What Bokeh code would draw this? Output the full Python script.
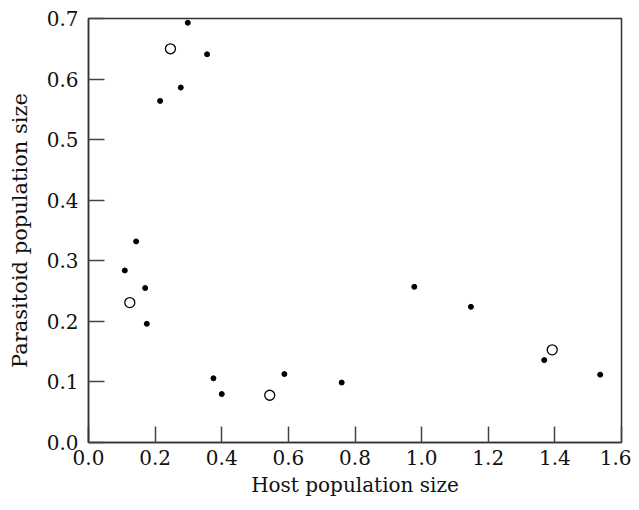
from bokeh.plotting import figure
from bokeh.models import FixedTicker, PrintfTickFormatter, Range1d
from bokeh.embed import file_html
from bokeh.resources import INLINE

# Filled points (host, parasitoid)
host_filled = [0.298, 0.356, 0.277, 0.215, 0.143, 0.109, 0.170, 0.175,
               0.375, 0.400, 0.588, 0.760, 0.978, 1.148, 1.368, 1.536]
para_filled = [0.693, 0.641, 0.586, 0.564, 0.332, 0.284, 0.255, 0.196,
               0.106, 0.080, 0.113, 0.099, 0.257, 0.224, 0.136, 0.112]

# Open points
host_open = [0.246, 0.124, 0.544, 1.392]
para_open = [0.650, 0.231, 0.078, 0.153]

x_ticks = [0.0, 0.2, 0.4, 0.6, 0.8, 1.0, 1.2, 1.4, 1.6]
y_ticks = [0.0, 0.1, 0.2, 0.3, 0.4, 0.5, 0.6, 0.7]

FONT = "DejaVu Serif"

p = figure(width=631, height=502, output_backend="svg", toolbar_location=None,
           x_range=Range1d(0, 1.6), y_range=Range1d(0, 0.7),
           min_border_left=88, min_border_right=10, min_border_top=18,
           min_border_bottom=60)
p.grid.visible = False
p.outline_line_color = "#333333"
p.outline_line_width = 1.5
p.background_fill_color = "white"
p.border_fill_color = "white"

p.xaxis.ticker = FixedTicker(ticks=x_ticks)
p.yaxis.ticker = FixedTicker(ticks=y_ticks)
p.xaxis.formatter = PrintfTickFormatter(format="%.1f")
p.yaxis.formatter = PrintfTickFormatter(format="%.1f")
p.xaxis.axis_label = "Host population size"
p.yaxis.axis_label = "Parasitoid population size"

for ax in (p.xaxis, p.yaxis):
    ax.major_tick_in = 16
    ax.major_tick_out = 0
    ax.minor_tick_in = 0
    ax.minor_tick_out = 0
    ax.major_tick_line_color = "#444444"
    ax.major_tick_line_width = 1.5
    ax.axis_line_color = "#333333"
    ax.axis_line_width = 1.5
    ax.major_label_text_font = FONT
    ax.major_label_text_font_size = "20px"
    ax.major_label_text_color = "#111111"
    ax.axis_label_text_font = FONT
    ax.axis_label_text_font_style = "normal"
    ax.axis_label_text_color = "#111111"

p.xaxis.axis_label_text_font_size = "20px"
p.yaxis.axis_label_text_font_size = "21px"
p.xaxis.major_label_standoff = 7
p.yaxis.major_label_standoff = 10
p.xaxis.axis_label_standoff = 5
p.yaxis.axis_label_standoff = 12

p.scatter(host_filled, para_filled, size=5, color="black")
p.scatter(host_open, para_open, size=10, fill_color="white",
          line_color="black", line_width=1.3)

open("out.html", "w").write(file_html(p, INLINE))
